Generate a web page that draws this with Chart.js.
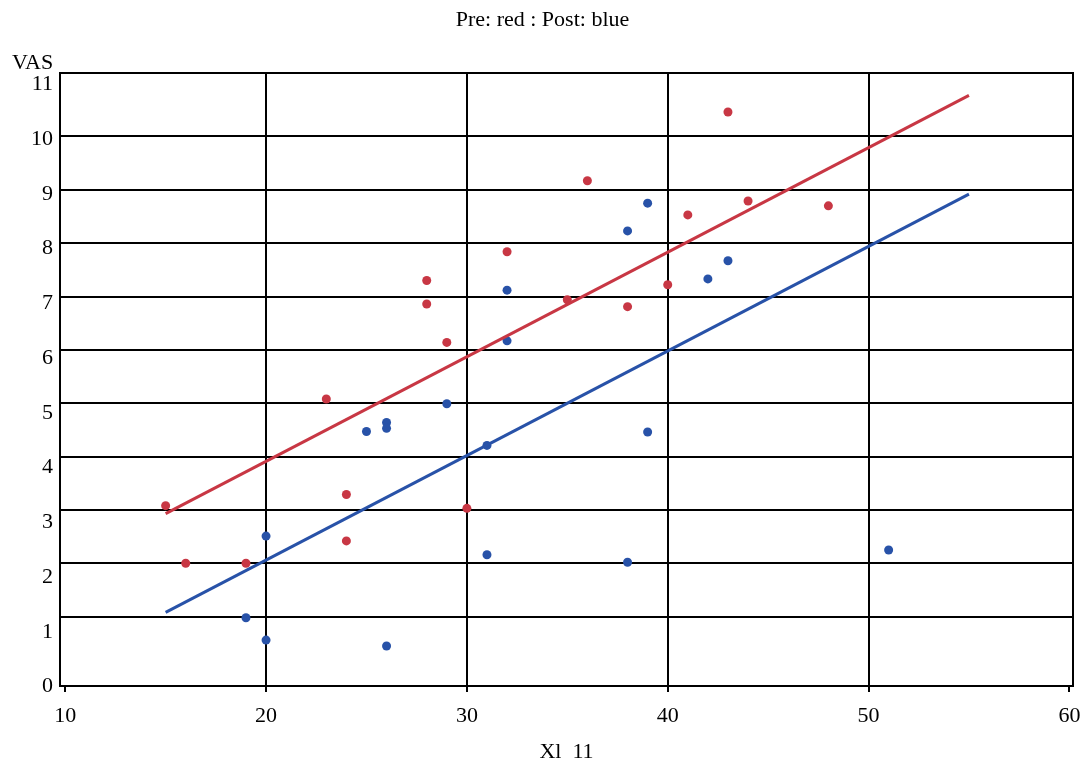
<!DOCTYPE html>
<html>
<head>
<meta charset="utf-8">
<title>VAS vs Xl 11</title>
<script src="https://cdn.jsdelivr.net/npm/chart.js@4.4.1/dist/chart.umd.min.js"></script>
<style>
  html, body { margin: 0; padding: 0; background: #fff; }
  #wrap { width: 1083px; height: 763px; }
</style>
</head>
<body>
<div id="wrap"><canvas id="vas-chart" width="1083" height="763"></canvas></div>
<script>
// pre (red) and post (blue) scores
const preX = [15, 16, 19, 23, 24, 24, 28, 28, 29, 30, 32, 35, 36, 38, 40, 41, 43, 44, 48];
const preY = [3.08, 2.0, 2.0, 5.08, 3.29, 2.42, 7.3, 6.86, 6.14, 3.03, 7.84, 6.94, 9.17, 6.81, 7.22, 8.53, 10.46, 8.79, 8.7];
const postX = [19, 20, 20, 25, 26, 26, 26, 29, 31, 31, 32, 32, 38, 38, 39, 39, 42, 43, 51];
const postY = [0.98, 2.51, 0.56, 4.47, 4.64, 4.53, 0.45, 4.99, 4.21, 2.16, 7.12, 6.17, 8.23, 2.02, 8.75, 4.46, 7.33, 7.67, 2.25];

// fitted lines, end points at x = 15 and x = 55
const fitX = [15, 55];
const preFitY = [2.93, 10.77];
const postFitY = [1.08, 8.92];

const xTicks = [10, 20, 30, 40, 50, 60];
const yLabels = [0, 1, 2, 3, 4, 5, 6, 7, 8, 9, 10, 11];
const yGrid = [1, 2, 3, 4, 5, 6, 7, 8, 9, 10];

const RED = 'rgb(200, 55, 68)';
const BLUE = 'rgb(40, 82, 168)';
const FONT = 'Liberation Serif, Times New Roman, serif';

const toPoints = (xs, ys) => xs.map((x, i) => ({ x, y: ys[i] }));
const fixTicks = (values) => (scale) => { scale.ticks = values.map((v) => ({ value: v })); };

new Chart(document.getElementById('vas-chart').getContext('2d'), {
  type: 'scatter',
  data: {
    datasets: [
      {
        label: 'Pre fit',
        type: 'line',
        data: toPoints(fitX, preFitY),
        borderColor: RED,
        borderWidth: 3,
        pointRadius: 0,
        fill: false,
        xAxisID: 'x',
        yAxisID: 'y',
      },
      {
        label: 'Post fit',
        type: 'line',
        data: toPoints(fitX, postFitY),
        borderColor: BLUE,
        borderWidth: 3,
        pointRadius: 0,
        fill: false,
        xAxisID: 'x',
        yAxisID: 'y',
      },
      {
        label: 'Pre',
        data: toPoints(preX, preY),
        backgroundColor: RED,
        borderWidth: 0,
        pointRadius: 4.5,
        xAxisID: 'x',
        yAxisID: 'y',
      },
      {
        label: 'Post',
        data: toPoints(postX, postY),
        backgroundColor: BLUE,
        borderWidth: 0,
        pointRadius: 4.5,
        xAxisID: 'x',
        yAxisID: 'y',
      },
    ],
  },
  options: {
    responsive: false,
    animation: false,
    layout: { padding: { left: 12, right: 10, top: 0, bottom: 0 } },
    plugins: {
      legend: { display: false },
      tooltip: { enabled: false },
      title: {
        display: true,
        text: 'Pre: red : Post: blue',
        color: '#000',
        font: { family: FONT, size: 22, weight: 'normal' },
        padding: { top: 7, bottom: 10 },
      },
      subtitle: {
        display: true,
        text: 'VAS',
        align: 'start',
        color: '#000',
        font: { family: FONT, size: 22, weight: 'normal', lineHeight: '20px' },
        padding: { top: 9.6, bottom: 0 },
      },
    },
    scales: {
      x: {
        type: 'linear',
        position: 'bottom',
        min: 9.74,
        max: 60.18,
        afterBuildTicks: fixTicks(xTicks),
        // label overhang would shrink the plot; the reference plot runs to the edge
        afterFit: (scale) => { scale.paddingLeft = 0; scale.paddingRight = 0; },
        grid: {
          color: (ctx) => (ctx.tick && (ctx.tick.value === 10 || ctx.tick.value === 60) ? 'rgba(0,0,0,0)' : '#000'),
          tickColor: '#000',
          lineWidth: 2,
          tickLength: 6,
        },
        border: { display: true, color: '#000', width: 2 },
        ticks: {
          color: '#000',
          padding: 13.5,
          maxRotation: 0,
          font: { family: FONT, size: 22, lineHeight: 1 },
        },
        title: {
          display: true,
          text: 'Xl  11',
          color: '#000',
          font: { family: FONT, size: 22, lineHeight: 1 },
          padding: { top: 0, bottom: 0 },
        },
      },
      xTop: {
        type: 'linear',
        position: 'top',
        min: 9.74,
        max: 60.18,
        grid: { display: false, drawTicks: false },
        ticks: { display: false },
        border: { display: true, color: '#000', width: 2 },
      },
      y: {
        type: 'linear',
        position: 'right',
        min: -0.3,
        max: 11.19,
        afterBuildTicks: fixTicks(yGrid),
        grid: { color: '#000', lineWidth: 2, drawTicks: false },
        ticks: { display: false },
        border: { display: true, color: '#000', width: 2 },
      },
      yl: {
        type: 'linear',
        position: 'left',
        min: 0.01,
        max: 11.21,
        afterBuildTicks: fixTicks(yLabels),
        afterFit: (scale) => { scale.width = 48; },
        grid: { display: false, drawTicks: false },
        border: { display: true, color: '#000', width: 2 },
        ticks: {
          color: '#000',
          padding: 7,
          font: { family: FONT, size: 22 },
        },
      },
    },
  },
});
</script>
</body>
</html>
